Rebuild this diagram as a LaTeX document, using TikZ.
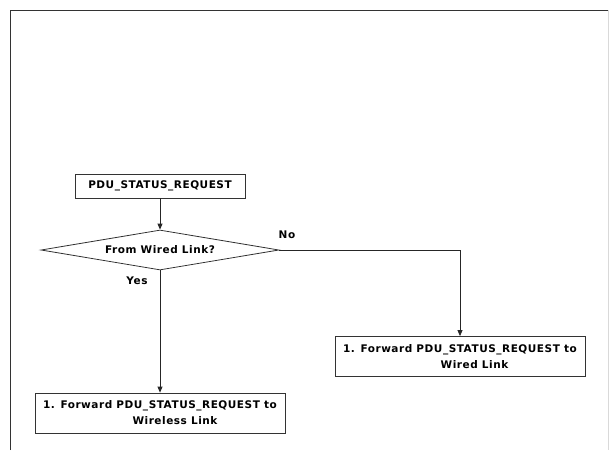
\documentclass[tikz,border=0pt]{standalone}
\usepackage{fontspec}
\setmainfont{DejaVu Sans}[LetterSpace=5]
\usetikzlibrary{arrows.meta,positioning,shapes.geometric}

\begin{document}
\begin{tikzpicture}[
  x=1pt, y=-1pt,
  font=\bfseries\fontsize{10.5}{16}\selectfont,
  box/.style={draw=black!80, line width=0.8pt, align=center, inner sep=2pt},
  step1/.style={box, minimum width=170pt, minimum height=24pt},
  act/.style={box, minimum width=250pt, minimum height=40pt},
  test/.style={draw=black!80, line width=0.8pt, diamond, aspect=6, inner sep=0pt, minimum width=238pt, minimum height=40pt},
  lbl/.style={inner sep=1pt},
  arr/.style={-{Triangle[length=6pt, width=5pt]}, line width=0.8pt, black!85}]
\useasboundingbox (0,0) rectangle (609,450);
% page frame
\draw[black!80, line width=1pt] (10,450) -- (10,10) -- (609,10);
\draw[black!15, line width=0.6pt] (608,10) -- (608,450);
% nodes
\node[step1] (req) at (160,186) {PDU\_STATUS\_REQUEST};
\node[test] (wired) at (160,250) {From Wired Link?};
\node[act] (fwdless) at (160,413) {1. Forward PDU\_STATUS\_REQUEST to\\\hspace*{30pt}Wireless Link};
\node[act] (fwdwired) at (460,356.5) {1. Forward PDU\_STATUS\_REQUEST to\\\hspace*{29pt}Wired Link};
% labels
\node[lbl] (no) at (287,235) {No};
\node[lbl] (yes) at (137,281) {Yes};
% arrows
\draw[arr] (req) -- (wired);
\draw[arr] (wired.south) -- (fwdless.north);
\draw[arr] (wired.east) -| (fwdwired.north);
\end{tikzpicture}
\end{document}
